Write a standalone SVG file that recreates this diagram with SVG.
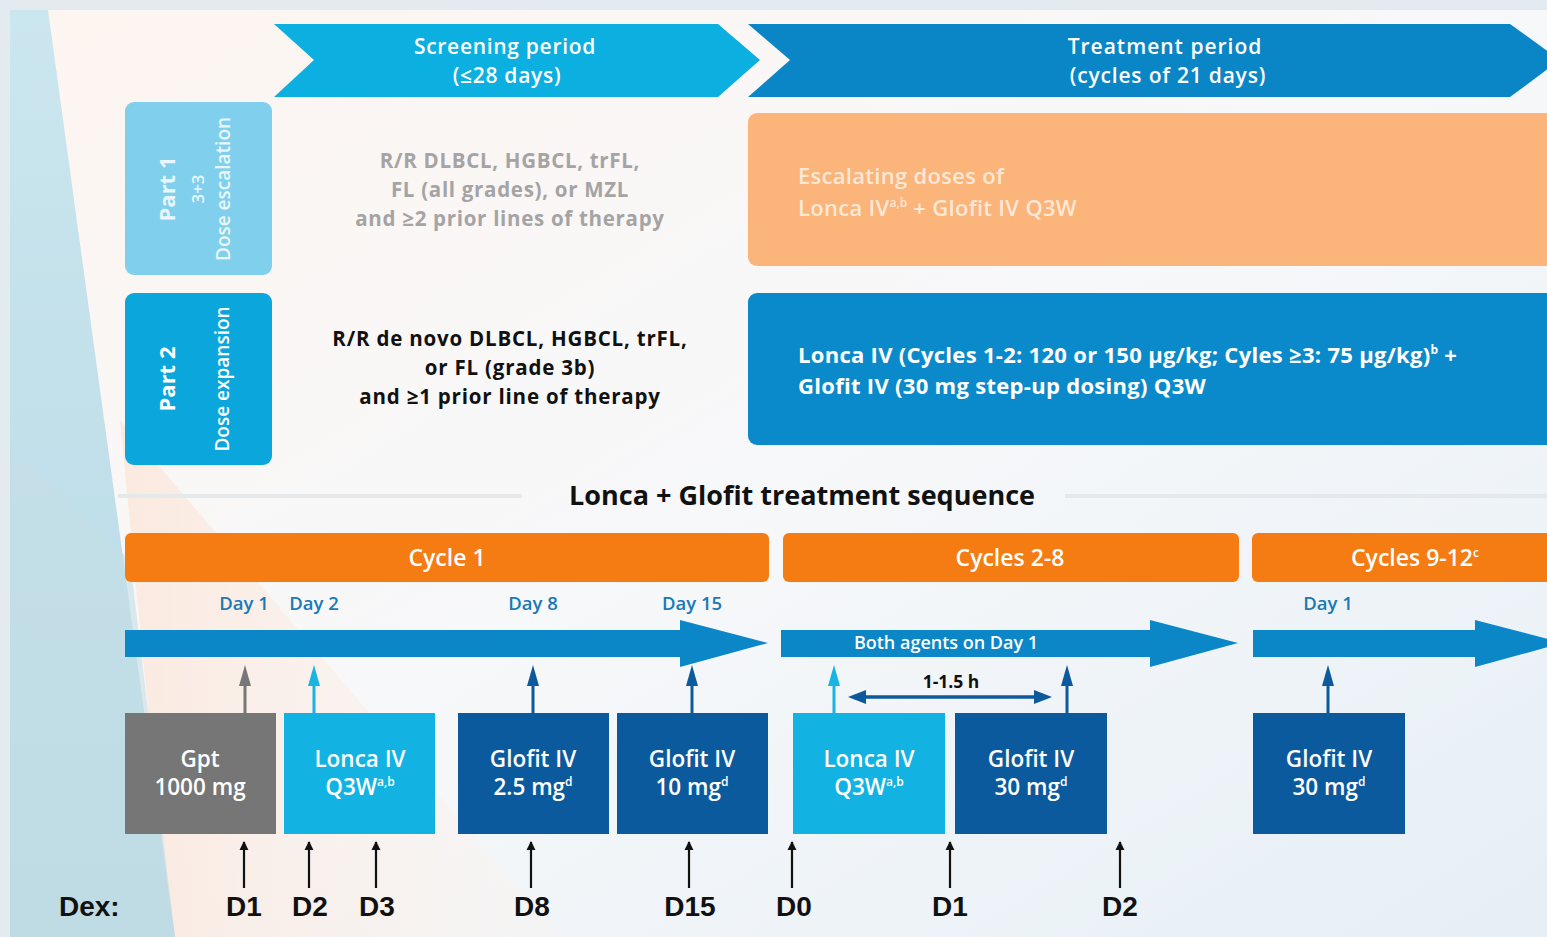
<svg xmlns="http://www.w3.org/2000/svg" width="1547" height="937" viewBox="0 0 1547 937">
<defs>
<style>
.os{font-family:"Open Sans","Noto Sans","Liberation Sans",sans-serif;font-weight:600}
.osb{font-family:"Open Sans","Noto Sans","Liberation Sans",sans-serif;font-weight:700}
.w{fill:#ffffff}
.day{fill:#1a79b6;font-size:18.5px}
.box{font-size:22.5px;fill:#ffffff}
.dex{font-family:"Liberation Sans",Arial,sans-serif;font-weight:700;font-size:28px;fill:#111}
.sup{font-size:12px;letter-spacing:0}
.dk{stroke:#111;stroke-width:2.2}
</style>
<linearGradient id="bg" x1="0" y1="0" x2="1" y2="1">
<stop offset="0" stop-color="#fdf5f0"/>
<stop offset="0.5" stop-color="#f7f8fa"/>
<stop offset="1" stop-color="#e6eff5"/>
</linearGradient>
<linearGradient id="lb" x1="0" y1="0" x2="0" y2="1">
<stop offset="0" stop-color="#cbe6ee"/>
<stop offset="1" stop-color="#b6d9e6"/>
</linearGradient>
<linearGradient id="peach" x1="0" y1="0" x2="1" y2="0">
<stop offset="0" stop-color="#fbe4d6" stop-opacity="0.9"/>
<stop offset="1" stop-color="#fdf3ec" stop-opacity="0.3"/>
</linearGradient>
<marker id="mk" viewBox="0 0 10 10" refX="9" refY="5" markerWidth="4.2" markerHeight="4.2" orient="auto" markerUnits="strokeWidth"><path d="M0,0 L10,5 L0,10 z" fill="#111"/></marker>
</defs>

<!-- background -->
<rect x="0" y="0" width="1547" height="937" fill="#e3ebf0"/>
<rect x="10" y="10" width="1537" height="927" fill="url(#bg)"/>
<polygon points="120,420 560,937 170,937" fill="url(#peach)" opacity="0.8"/>
<polygon points="10,10 48,10 175,937 10,937" fill="url(#lb)"/>
<polygon points="10,450 130,560 175,937 10,937" fill="#c4dde4" opacity="0.6"/>

<!-- period arrows -->
<g id="screening">
<polygon points="274,24 718,24 760,60 718,97 274,97 314,60" fill="#0bafe0"/>
<text class="os w" font-size="21" letter-spacing="0.7" text-anchor="middle" x="505" y="54">Screening period</text>
<text class="os w" font-size="21" letter-spacing="0.7" text-anchor="middle" x="507" y="83">(≤28 days)</text>
</g>
<g id="treatment">
<polygon points="748,24 1510,24 1560,60 1510,97 748,97 790,60" fill="#0a86c6"/>
<text class="os w" font-size="21" letter-spacing="1" text-anchor="middle" x="1165" y="54">Treatment period</text>
<text class="os w" font-size="21" letter-spacing="0.8" text-anchor="middle" x="1168" y="83">(cycles of 21 days)</text>
</g>

<!-- Part 1 -->
<g id="part1">
<rect x="125" y="102" width="147" height="173" rx="9" fill="#80d0ed"/>
<text class="osb" font-size="22" fill="#e9f7fc" text-anchor="middle" transform="translate(175,189) rotate(-90)">Part 1</text>
<text class="os" font-size="17" fill="#e9f7fc" text-anchor="middle" transform="translate(204,189) rotate(-90)">3+3</text>
<text class="os" font-size="19" fill="#e9f7fc" text-anchor="middle" transform="translate(230,189) rotate(-90)">Dose escalation</text>
</g>
<g id="part1-criteria">
<text class="osb" font-size="20.5" letter-spacing="0.7" fill="#a4a4a4" text-anchor="middle" x="510" y="168">R/R DLBCL, HGBCL, trFL,</text>
<text class="osb" font-size="20.5" letter-spacing="0.7" fill="#a4a4a4" text-anchor="middle" x="510" y="197">FL (all grades), or MZL</text>
<text class="osb" font-size="20.5" letter-spacing="0.7" fill="#a4a4a4" text-anchor="middle" x="510" y="226">and ≥2 prior lines of therapy</text>
</g>
<g id="part1-treatment">
<rect x="748" y="113" width="810" height="153" rx="9" fill="#fbb47a"/>
<text class="os" font-size="22" letter-spacing="0.3" fill="#fde8d6" x="798" y="184">Escalating doses of</text>
<text class="os" font-size="22" letter-spacing="0.3" fill="#fde8d6" x="798" y="216">Lonca IV<tspan class="sup" dy="-9">a,b</tspan><tspan dy="9"> + Glofit IV Q3W</tspan></text>
</g>

<!-- Part 2 -->
<g id="part2">
<rect x="125" y="293" width="147" height="172" rx="9" fill="#0aa6dc"/>
<text class="osb w" font-size="22" text-anchor="middle" transform="translate(175,379) rotate(-90)">Part 2</text>
<text class="os w" font-size="19" text-anchor="middle" transform="translate(229,379) rotate(-90)">Dose expansion</text>
</g>
<g id="part2-criteria">
<text class="osb" font-size="20.5" letter-spacing="0.8" fill="#111" text-anchor="middle" x="510" y="346">R/R de novo DLBCL, HGBCL, trFL,</text>
<text class="osb" font-size="20.5" letter-spacing="0.8" fill="#111" text-anchor="middle" x="510" y="375">or FL (grade 3b)</text>
<text class="osb" font-size="20.5" letter-spacing="0.8" fill="#111" text-anchor="middle" x="510" y="404">and ≥1 prior line of therapy</text>
</g>
<g id="part2-treatment">
<rect x="748" y="293" width="810" height="152" rx="9" fill="#0a8acb"/>
<text class="osb w" font-size="22" letter-spacing="0.3" x="798" y="363">Lonca IV (Cycles 1-2: 120 or 150 µg/kg; Cyles ≥3: 75 µg/kg)<tspan class="sup" dy="-9">b</tspan><tspan dy="9"> +</tspan></text>
<text class="osb w" font-size="22" letter-spacing="0.3" x="798" y="394">Glofit IV (30 mg step-up dosing) Q3W</text>
</g>

<!-- title -->
<g id="title">
<line x1="118" y1="496" x2="522" y2="496" stroke="#e6e9ec" stroke-width="4"/>
<line x1="1065" y1="496" x2="1547" y2="496" stroke="#e6e9ec" stroke-width="4"/>
<text class="osb" font-size="27" fill="#111" text-anchor="middle" x="802" y="505">Lonca + Glofit treatment sequence</text>
</g>

<!-- cycle bars -->
<g id="cycle1">
<rect x="125" y="533" width="644" height="49" rx="6" fill="#f57c12"/>
<text class="os w" font-size="23" text-anchor="middle" x="447" y="566">Cycle 1</text>
</g>
<g id="cycles2-8">
<rect x="783" y="533" width="456" height="49" rx="6" fill="#f57c12"/>
<text class="os w" font-size="23" text-anchor="middle" x="1010" y="566">Cycles 2-8</text>
</g>
<g id="cycles9-12">
<rect x="1252" y="533" width="310" height="49" rx="6" fill="#f57c12"/>
<text class="os w" font-size="23" text-anchor="middle" x="1415" y="566">Cycles 9-12<tspan class="sup" dy="-9">c</tspan></text>
</g>

<!-- day labels -->
<g id="day-labels">
<text class="os day" text-anchor="middle" x="244" y="610">Day 1</text>
<text class="os day" text-anchor="middle" x="314" y="610">Day 2</text>
<text class="os day" text-anchor="middle" x="533" y="610">Day 8</text>
<text class="os day" text-anchor="middle" x="692" y="610">Day 15</text>
<text class="os day" text-anchor="middle" x="1328" y="610">Day 1</text>
</g>

<!-- timelines -->
<g id="timeline1">
<polygon points="125,630 680,630 680,620 768,643 680,667 680,657 125,657" fill="#0b86c6"/>
</g>
<g id="timeline2">
<polygon points="781,630 1150,630 1150,620 1238,643 1150,667 1150,657 781,657" fill="#0b86c6"/>
<text class="os w" font-size="18" text-anchor="middle" x="946" y="649">Both agents on Day 1</text>
</g>
<g id="timeline3">
<polygon points="1253,630 1475,630 1475,620 1563,643 1475,667 1475,657 1253,657" fill="#0b86c6"/>
</g>

<!-- connectors -->
<g id="connectors">
<g stroke-width="3">
<line x1="245" y1="713" x2="245" y2="680" stroke="#777"/>
<line x1="314" y1="713" x2="314" y2="680" stroke="#1ab4e2"/>
<line x1="533" y1="713" x2="533" y2="680" stroke="#0c5a9c"/>
<line x1="692" y1="713" x2="692" y2="680" stroke="#0c5a9c"/>
<line x1="834" y1="713" x2="834" y2="680" stroke="#1ab4e2"/>
<line x1="1067" y1="713" x2="1067" y2="680" stroke="#0c5a9c"/>
<line x1="1328" y1="713" x2="1328" y2="680" stroke="#0c5a9c"/>
</g>
<polygon points="239,686 245,665 251,686" fill="#777"/>
<polygon points="308,686 314,665 320,686" fill="#1ab4e2"/>
<polygon points="527,686 533,665 539,686" fill="#0c5a9c"/>
<polygon points="686,686 692,665 698,686" fill="#0c5a9c"/>
<polygon points="828,686 834,665 840,686" fill="#1ab4e2"/>
<polygon points="1061,686 1067,665 1073,686" fill="#0c5a9c"/>
<polygon points="1322,686 1328,665 1334,686" fill="#0c5a9c"/>
<line x1="862" y1="697" x2="1038" y2="697" stroke="#0c5a9c" stroke-width="3.5"/>
<polygon points="848,697 866,690 866,704" fill="#0c5a9c"/>
<polygon points="1052,697 1034,690 1034,704" fill="#0c5a9c"/>
<text class="osb" font-size="17.5" fill="#111" text-anchor="middle" x="951" y="688">1-1.5 h</text>
<!-- dex arrows -->
<line class="dk" x1="244" y1="888" x2="244" y2="842" marker-end="url(#mk)"/>
<line class="dk" x1="309" y1="888" x2="309" y2="842" marker-end="url(#mk)"/>
<line class="dk" x1="376" y1="888" x2="376" y2="842" marker-end="url(#mk)"/>
<line class="dk" x1="531" y1="888" x2="531" y2="842" marker-end="url(#mk)"/>
<line class="dk" x1="689" y1="888" x2="689" y2="842" marker-end="url(#mk)"/>
<line class="dk" x1="792" y1="888" x2="792" y2="842" marker-end="url(#mk)"/>
<line class="dk" x1="950" y1="888" x2="950" y2="842" marker-end="url(#mk)"/>
<line class="dk" x1="1120" y1="888" x2="1120" y2="842" marker-end="url(#mk)"/>
</g>

<!-- dose boxes -->
<g id="gpt">
<rect x="125" y="713" width="151" height="121" fill="#767676"/>
<text class="os box" text-anchor="middle" x="200" y="767">Gpt</text>
<text class="os box" text-anchor="middle" x="200" y="795">1000 mg</text>
</g>
<g id="lonca1">
<rect x="284" y="713" width="151" height="121" fill="#12b3e3"/>
<text class="os box" text-anchor="middle" x="360" y="767">Lonca IV</text>
<text class="os box" text-anchor="middle" x="360" y="795">Q3W<tspan class="sup" dy="-9">a,b</tspan></text>
</g>
<g id="glofit25">
<rect x="458" y="713" width="151" height="121" fill="#0b5a9e"/>
<text class="os box" text-anchor="middle" x="533" y="767">Glofit IV</text>
<text class="os box" text-anchor="middle" x="533" y="795">2.5 mg<tspan class="sup" dy="-9">d</tspan></text>
</g>
<g id="glofit10">
<rect x="617" y="713" width="151" height="121" fill="#0b5a9e"/>
<text class="os box" text-anchor="middle" x="692" y="767">Glofit IV</text>
<text class="os box" text-anchor="middle" x="692" y="795">10 mg<tspan class="sup" dy="-9">d</tspan></text>
</g>
<g id="lonca2">
<rect x="793" y="713" width="152" height="121" fill="#12b3e3"/>
<text class="os box" text-anchor="middle" x="869" y="767">Lonca IV</text>
<text class="os box" text-anchor="middle" x="869" y="795">Q3W<tspan class="sup" dy="-9">a,b</tspan></text>
</g>
<g id="glofit30a">
<rect x="955" y="713" width="152" height="121" fill="#0b5a9e"/>
<text class="os box" text-anchor="middle" x="1031" y="767">Glofit IV</text>
<text class="os box" text-anchor="middle" x="1031" y="795">30 mg<tspan class="sup" dy="-9">d</tspan></text>
</g>
<g id="glofit30b">
<rect x="1253" y="713" width="152" height="121" fill="#0b5a9e"/>
<text class="os box" text-anchor="middle" x="1329" y="767">Glofit IV</text>
<text class="os box" text-anchor="middle" x="1329" y="795">30 mg<tspan class="sup" dy="-9">d</tspan></text>
</g>

<!-- Dex -->
<g id="dex">
<text class="dex" x="59" y="916">Dex:</text>
<text class="dex" text-anchor="middle" x="244" y="916">D1</text>
<text class="dex" text-anchor="middle" x="310" y="916">D2</text>
<text class="dex" text-anchor="middle" x="377" y="916">D3</text>
<text class="dex" text-anchor="middle" x="532" y="916">D8</text>
<text class="dex" text-anchor="middle" x="690" y="916">D15</text>
<text class="dex" text-anchor="middle" x="794" y="916">D0</text>
<text class="dex" text-anchor="middle" x="950" y="916">D1</text>
<text class="dex" text-anchor="middle" x="1120" y="916">D2</text>
</g>
</svg>
